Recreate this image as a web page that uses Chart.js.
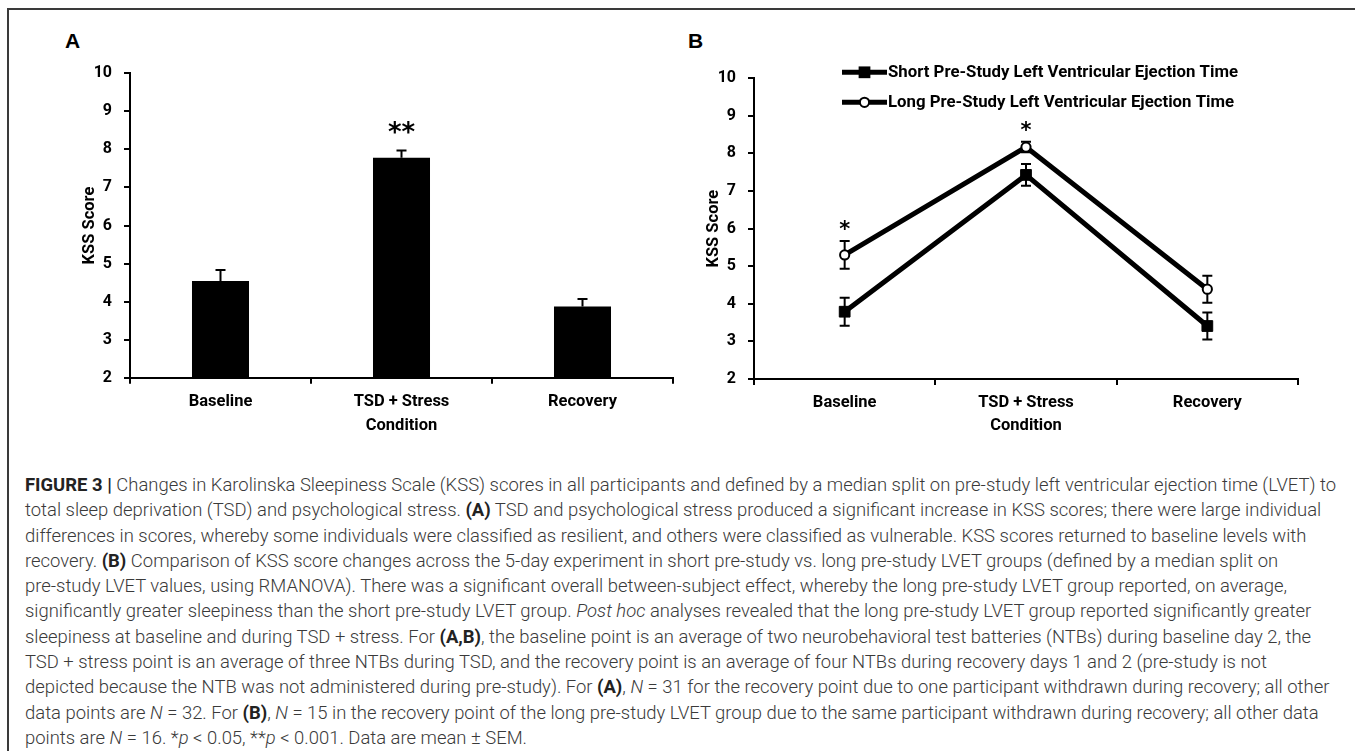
<!DOCTYPE html>
<html>
<head>
<meta charset="utf-8">
<script src="https://cdn.jsdelivr.net/npm/chart.js@4.4.1/dist/chart.umd.min.js"></script>
<style>
  html, body { margin: 0; padding: 0; background: #fff; }
  body { width: 1355px; height: 751px; position: relative; overflow: hidden; }
  #frame { position: absolute; left: 7px; top: 8px; right: 0; bottom: 0;
           border-top: 2px solid #3a3a3a; border-left: 2px solid #3a3a3a; }
  .letter { position: absolute; top: 29px; line-height: 21px;
            font: bold 21px "Liberation Sans", Arial, sans-serif; color: #000; }
  canvas { position: absolute; top: 0; }
  #caption { position: absolute; left: 25px; top: 473px; font-family: Roboto, "Liberation Sans", sans-serif;
             font-weight: 300; font-size: 15.5px; line-height: 25.3px; color: #3a3a3a; white-space: nowrap; }
  #caption b { font-weight: 700; color: #222; }
</style>
</head>
<body>
<div id="frame"></div>
<div class="letter" style="left:65px">A</div>
<div class="letter" style="left:688px">B</div>
<canvas id="chartA" width="690" height="450" style="left:0; width:690px; height:450px"></canvas>
<canvas id="chartB" width="665" height="450" style="left:690px; width:665px; height:450px"></canvas>

<div id="caption">
<div><span id="firstLine"><b>FIGURE 3 |</b> Changes in Karolinska Sleepiness Scale (KSS) scores in all participants and defined by a median split on pre-study left ventricular ejection time (LVET) to</span></div>
<div>total sleep deprivation (TSD) and psychological stress. <b>(A)</b> TSD and psychological stress produced a significant increase in KSS scores; there were large individual</div>
<div>differences in scores, whereby some individuals were classified as resilient, and others were classified as vulnerable. KSS scores returned to baseline levels with</div>
<div>recovery. <b>(B)</b> Comparison of KSS score changes across the 5-day experiment in short pre-study vs. long pre-study LVET groups (defined by a median split on</div>
<div>pre-study LVET values, using RMANOVA). There was a significant overall between-subject effect, whereby the long pre-study LVET group reported, on average,</div>
<div>significantly greater sleepiness than the short pre-study LVET group. <i>Post hoc</i> analyses revealed that the long pre-study LVET group reported significantly greater</div>
<div>sleepiness at baseline and during TSD + stress. For <b>(A,B)</b>, the baseline point is an average of two neurobehavioral test batteries (NTBs) during baseline day 2, the</div>
<div>TSD + stress point is an average of three NTBs during TSD, and the recovery point is an average of four NTBs during recovery days 1 and 2 (pre-study is not</div>
<div>depicted because the NTB was not administered during pre-study). For <b>(A)</b>, <i>N</i> = 31 for the recovery point due to one participant withdrawn during recovery; all other</div>
<div>data points are <i>N</i> = 32. For <b>(B)</b>, <i>N</i> = 15 in the recovery point of the long pre-study LVET group due to the same participant withdrawn during recovery; all other data</div>
<div>points are <i>N</i> = 16. *<i>p</i> &lt; 0.05, **<i>p</i> &lt; 0.001. Data are mean ± SEM.</div>
</div>

<script>
const categories = ["Baseline", "TSD + Stress", "Recovery"];

// panel A: all participants
const kssAll = [4.54, 7.78, 3.87];
const kssAllSem = [0.29, 0.19, 0.2];
const starsAll = ["", "**", ""];

// panel B: median split on pre-study LVET
const shortLvet = [3.79, 7.43, 3.41];
const shortLvetSem = [0.37, 0.29, 0.36];
const longLvet = [5.3, 8.17, 4.39];
const longLvetSem = [0.37, 0.14, 0.36];
const starsLvet = ["*", "*", ""];

const yMin = 2;
const yMax = 10;
const yStep = 1;

const tickFont = { family: "Roboto", weight: 700, size: 16 };
const labelFont = { family: "Roboto", weight: 700, size: 16.5 };

// vertical SEM bars, drawn under the markers
const errorBars = {
  id: "errorBars",
  beforeDatasetsDraw(chart, args, opts) {
    const { ctx } = chart;
    const y = chart.scales.y;
    chart.data.datasets.forEach((ds, i) => {
      if (!ds.errors) return;
      const meta = chart.getDatasetMeta(i);
      ctx.save();
      ctx.strokeStyle = "#000";
      ctx.lineWidth = 2;
      meta.data.forEach((el, j) => {
        const v = ds.data[j];
        const e = ds.errors[j];
        const x = el.x;
        const top = y.getPixelForValue(v + e);
        const bottom = opts.plusOnly ? y.getPixelForValue(v) : y.getPixelForValue(v - e);
        ctx.beginPath();
        ctx.moveTo(x, bottom);
        ctx.lineTo(x, top);
        ctx.moveTo(x - opts.cap, top);
        ctx.lineTo(x + opts.cap, top);
        if (!opts.plusOnly) {
          ctx.moveTo(x - opts.cap, bottom);
          ctx.lineTo(x + opts.cap, bottom);
        }
        ctx.stroke();
      });
      ctx.restore();
    });
  }
};

// significance asterisks above the highest error bar of a category
const stars = {
  id: "stars",
  afterDatasetsDraw(chart, args, opts) {
    const { ctx } = chart;
    const y = chart.scales.y;
    const x = chart.scales.x;
    ctx.save();
    ctx.fillStyle = "#000";
    ctx.font = `bold ${opts.size}px "DejaVu Sans"`;
    ctx.textAlign = "center";
    ctx.textBaseline = "alphabetic";
    opts.marks.forEach((mark, j) => {
      if (!mark) return;
      let top = Infinity;
      chart.data.datasets.forEach((ds) => {
        top = Math.min(top, y.getPixelForValue(ds.data[j] + (ds.errors ? ds.errors[j] : 0)));
      });
      const cy = top - opts.offset;
      ctx.fillText(mark, x.getPixelForValue(j), cy + opts.size * 0.58);
    });
    ctx.restore();
  }
};

// legend with line + marker, as in the original figure
const lineLegend = {
  id: "lineLegend",
  afterDraw(chart, args, opts) {
    if (!opts.display) return;
    const { ctx } = chart;
    chart.data.datasets.forEach((ds, i) => {
      const yy = opts.top + i * opts.rowGap;
      ctx.save();
      ctx.strokeStyle = "#000";
      ctx.lineWidth = 5;
      ctx.beginPath();
      ctx.moveTo(opts.left, yy);
      ctx.lineTo(opts.left + opts.lineLength, yy);
      ctx.stroke();
      const mx = opts.left + opts.lineLength / 2;
      if (ds.pointStyle === "rect") {
        const s = Math.SQRT1_2 * ds.pointRadius;
        ctx.fillStyle = "#000";
        ctx.fillRect(mx - s - 0.5, yy - s - 0.5, 2 * s + 1, 2 * s + 1);
      } else {
        ctx.fillStyle = "#fff";
        ctx.lineWidth = ds.pointBorderWidth;
        ctx.beginPath();
        ctx.arc(mx, yy, ds.pointRadius, 0, Math.PI * 2);
        ctx.fill();
        ctx.stroke();
      }
      ctx.fillStyle = "#000";
      ctx.font = `700 ${opts.fontSize}px Roboto`;
      ctx.textAlign = "left";
      ctx.textBaseline = "middle";
      ctx.fillText(ds.label, opts.left + opts.lineLength + 1, yy + 1);
      ctx.restore();
    });
  }
};

function axes(yWidth, xHeight) {
  return {
    x: {
      type: "category",
      offset: true,
      grid: { offset: true, drawOnChartArea: false, drawTicks: true, tickLength: 6, color: "#000", lineWidth: 2 },
      border: { display: true, color: "#000", width: 2 },
      ticks: { color: "#000", font: labelFont, padding: 8, maxRotation: 0, autoSkip: false },
      title: { display: true, text: "Condition", color: "#000", font: labelFont, padding: { top: 0, bottom: 14 } },
      afterFit: (s) => { s.height = xHeight; }
    },
    y: {
      min: yMin,
      max: yMax,
      ticks: { stepSize: yStep, color: "#000", font: tickFont, padding: 12 },
      grid: { drawOnChartArea: false, drawTicks: true, tickLength: 6, color: "#000", lineWidth: 2 },
      border: { display: true, color: "#000", width: 2 },
      title: { display: true, text: "KSS Score", color: "#000", font: labelFont, padding: 0 },
      afterFit: (s) => { s.width = yWidth; }
    }
  };
}

new Chart(document.getElementById("chartA"), {
  type: "bar",
  data: {
    labels: categories,
    datasets: [{
      label: "KSS Score",
      data: kssAll,
      errors: kssAllSem,
      backgroundColor: "#000",
      borderWidth: 0,
      categoryPercentage: 1,
      barPercentage: 0.315
    }]
  },
  options: {
    responsive: false,
    animation: false,
    events: [],
    layout: { padding: { left: 80.4, right: 17, top: 73.3, bottom: 0 } },
    scales: axes(49.6, 72.3),
    plugins: {
      legend: { display: false },
      tooltip: { enabled: false },
      errorBars: { cap: 5, plusOnly: true },
      stars: { marks: starsAll, offset: 25, size: 26 },
      lineLegend: { display: false }
    }
  },
  plugins: [errorBars, stars, lineLegend]
});

new Chart(document.getElementById("chartB"), {
  type: "line",
  data: {
    labels: categories,
    datasets: [
      {
        label: "Short Pre-Study Left Ventricular Ejection Time",
        data: shortLvet,
        errors: shortLvetSem,
        borderColor: "#000",
        borderWidth: 5,
        pointStyle: "rect",
        pointRadius: 7.6,
        pointBorderWidth: 1,
        pointBackgroundColor: "#000",
        pointBorderColor: "#000",
        tension: 0
      },
      {
        label: "Long Pre-Study Left Ventricular Ejection Time",
        data: longLvet,
        errors: longLvetSem,
        borderColor: "#000",
        borderWidth: 5,
        pointStyle: "circle",
        pointRadius: 4.6,
        pointBorderWidth: 2,
        pointBackgroundColor: "#fff",
        pointBorderColor: "#000",
        tension: 0
      }
    ]
  },
  options: {
    responsive: false,
    animation: false,
    events: [],
    layout: { padding: { left: 14.4, right: 57, top: 78.3, bottom: 0 } },
    scales: axes(49.6, 71),
    plugins: {
      legend: { display: false },
      tooltip: { enabled: false },
      errorBars: { cap: 5, plusOnly: false },
      stars: { marks: starsLvet, offset: 17, size: 21 },
      lineLegend: { display: true, left: 152, lineLength: 45, top: 72.3, rowGap: 30, fontSize: 16.8 }
    }
  },
  plugins: [errorBars, stars, lineLegend]
});

// scale caption so the first line spans the same width as in the figure
function fitCaption() {
  const cap = document.getElementById("caption");
  const w = document.getElementById("firstLine").getBoundingClientRect().width;
  const base = parseFloat(getComputedStyle(cap).fontSize);
  cap.style.fontSize = (base * 1313 / w).toFixed(2) + "px";
}
fitCaption();
</script>
</body>
</html>
